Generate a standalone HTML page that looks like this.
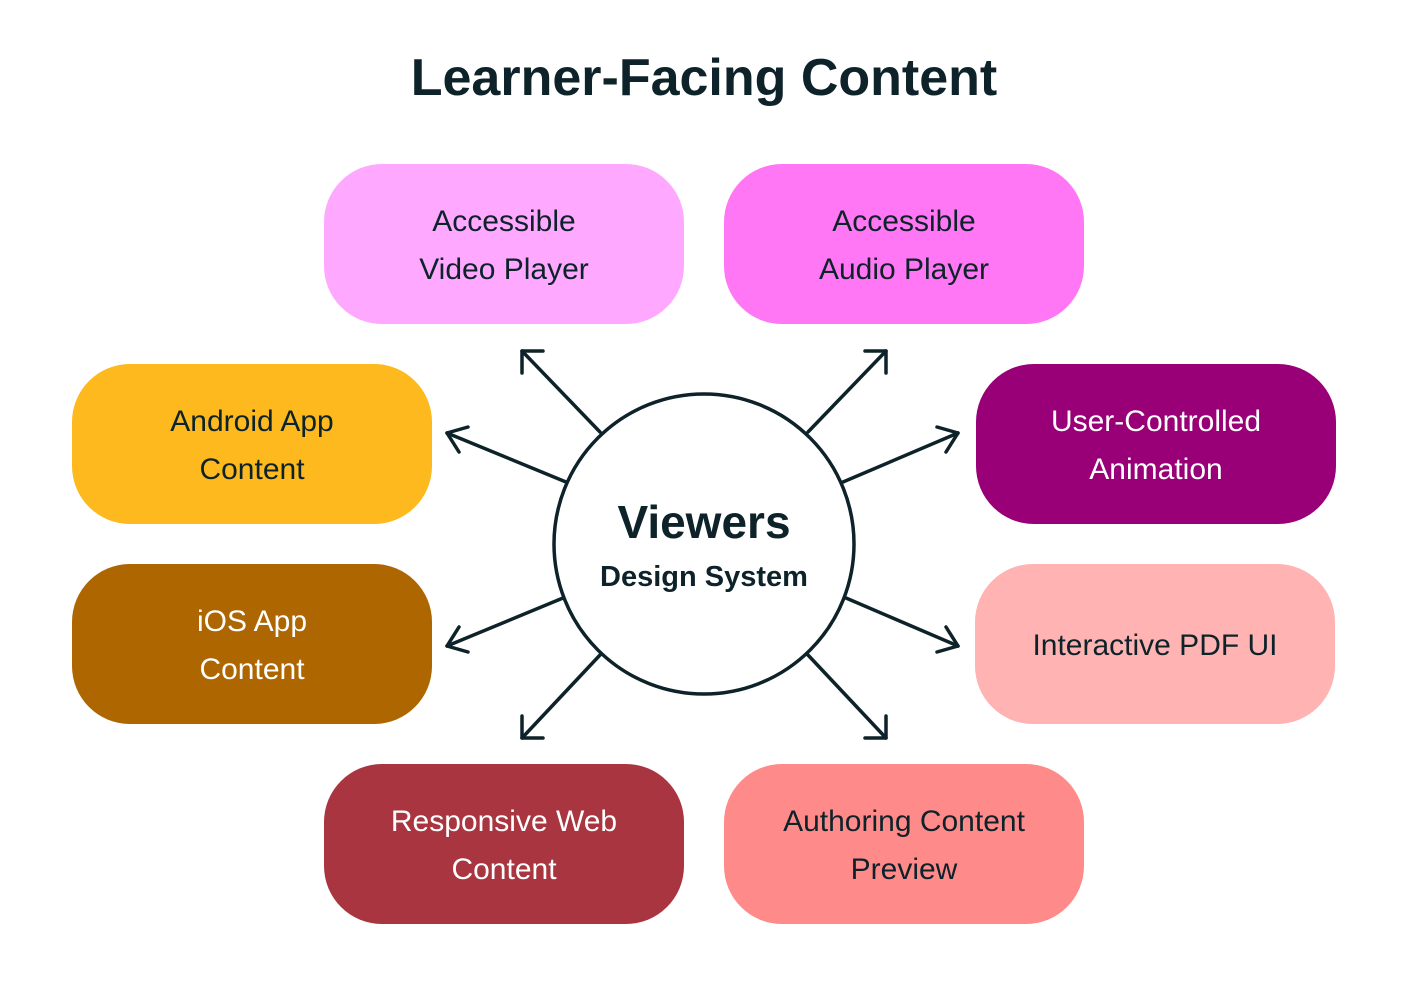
<!DOCTYPE html>
<html><head><meta charset="utf-8"><style>
html,body{margin:0;padding:0;background:#fff;}
svg text{font-family:"Liberation Sans","DejaVu Sans",sans-serif;}
</style></head><body>
<svg width="1408" height="996" viewBox="0 0 1408 996" xmlns="http://www.w3.org/2000/svg">
<rect width="1408" height="996" fill="#fff"/>
<text x="704" y="95" text-anchor="middle" font-size="52" font-weight="bold" fill="#0d2229">Learner-Facing Content</text>

<g font-size="30" text-anchor="middle">
<rect x="324" y="164" width="360" height="160" rx="58" fill="#ffa8ff"/>
<text x="504" y="231" fill="#0d2229">Accessible</text><text x="504" y="279" fill="#0d2229">Video Player</text>
<rect x="724" y="164" width="360" height="160" rx="58" fill="#ff77f5"/>
<text x="904" y="231" fill="#0d2229">Accessible</text><text x="904" y="279" fill="#0d2229">Audio Player</text>
<rect x="72" y="364" width="360" height="160" rx="58" fill="#fdb91e"/>
<text x="252" y="431" fill="#0d2229">Android App</text><text x="252" y="479" fill="#0d2229">Content</text>
<rect x="976" y="364" width="360" height="160" rx="58" fill="#990077"/>
<text x="1156" y="431" fill="#fff">User-Controlled</text><text x="1156" y="479" fill="#fff">Animation</text>
<rect x="72" y="564" width="360" height="160" rx="58" fill="#ad6600"/>
<text x="252" y="631" fill="#fff">iOS App</text><text x="252" y="679" fill="#fff">Content</text>
<rect x="975" y="564" width="360" height="160" rx="58" fill="#ffb3b3"/>
<text x="1155" y="655" fill="#0d2229">Interactive PDF UI</text>
<rect x="324" y="764" width="360" height="160" rx="58" fill="#a8353f"/>
<text x="504" y="831" fill="#fff">Responsive Web</text><text x="504" y="879" fill="#fff">Content</text>
<rect x="724" y="764" width="360" height="160" rx="58" fill="#ff8a8a"/>
<text x="904" y="831" fill="#0d2229">Authoring Content</text><text x="904" y="879" fill="#0d2229">Preview</text>
</g>

<g stroke="#0d2229" stroke-width="3.5" fill="none" stroke-linecap="round" stroke-linejoin="round">
<circle cx="704" cy="544" r="150"/>
<line x1="600" y1="432" x2="522" y2="351"/><polyline points="522,373 522,351 543,351"/>
<line x1="808" y1="432" x2="886" y2="351"/><polyline points="865,351 886,351 886,373"/>
<line x1="566" y1="482" x2="447" y2="433"/><polyline points="459,452 447,433 468,427"/>
<line x1="843" y1="482" x2="958" y2="433"/><polyline points="937,427 958,433 946,452"/>
<line x1="563" y1="598" x2="447" y2="646"/><polyline points="459,627 447,646 468,652"/>
<line x1="846" y1="598" x2="958" y2="646"/><polyline points="946,627 958,646 937,652"/>
<line x1="600" y1="655" x2="522" y2="738"/><polyline points="522,716 522,738 543,738"/>
<line x1="808" y1="655" x2="886" y2="738"/><polyline points="865,738 886,738 886,716"/>
</g>
<text x="704" y="538" text-anchor="middle" font-size="46" font-weight="bold" fill="#0d2229">Viewers</text>
<text x="704" y="586" text-anchor="middle" font-size="29" font-weight="bold" fill="#0d2229">Design System</text>
</svg>
</body></html>
